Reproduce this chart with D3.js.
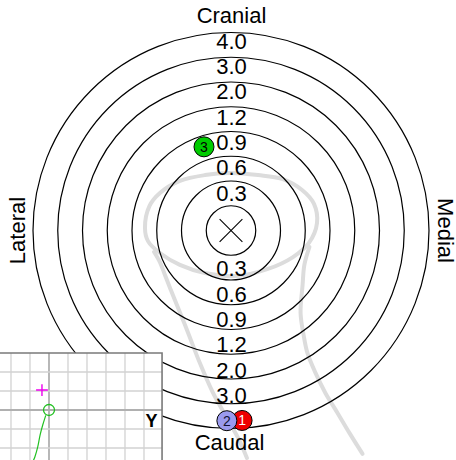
<!DOCTYPE html>
<html>
<head>
<meta charset="utf-8">
<script src="https://cdn.jsdelivr.net/npm/d3@7"></script>
<style>
  html, body { margin: 0; padding: 0; background: #fff; }
  svg { display: block; }
</style>
</head>
<body>
<svg id="chart" width="456" height="460"></svg>
<script>
// Distance bands, from the innermost ring outwards
const ringLabels = ["0.3", "0.6", "0.9", "1.2", "2.0", "3.0", "4.0"];
// Caudal side shows every band but the outermost one
const caudalRingLabels = ["0.3", "0.6", "0.9", "1.2", "2.0", "3.0"];
const directionLabels = ["Cranial", "Caudal", "Lateral", "Medial"];

// Numbered markers: band they fall in and bearing (degrees clockwise from cranial)
const markerIds = [1, 2, 3];
const markerBands = ["4.0", "4.0", "0.9"];
const markerAngles = [176.8, 181.4, -18.1];

// Bone outline, in band units (x toward medial, y toward cranial)
const outlineHead = [
  [-3.42, 0.12], [-3.24, 0.99], [-2.83, 1.50], [-2.04, 1.98], [-1.05, 2.21],
  [-0.06, 2.29], [1.05, 2.21], [2.00, 2.06], [2.79, 1.62], [3.26, 1.07],
  [3.38, 0.32], [3.06, -0.47], [2.43, -1.03], [1.44, -1.50], [0.18, -1.78],
  [-1.05, -1.66], [-2.04, -1.34], [-2.83, -0.87], [-3.30, -0.40]
];
const outlineMedialShaft = [
  [3.08, -0.63], [2.88, -1.34], [2.81, -2.13], [2.73, -3.24], [2.85, -4.11],
  [3.00, -4.82], [3.32, -5.61], [3.71, -6.40], [4.19, -7.19], [4.66, -7.98], [5.18, -8.81]
];
const outlineLateralShaft = [
  [-3.06, -0.83], [-2.83, -1.23], [-2.63, -1.74], [-2.43, -2.25], [-2.19, -2.85],
  [-1.76, -3.91], [-1.25, -5.22], [-0.73, -6.40], [-0.18, -7.39], [0.26, -8.18], [0.61, -8.97]
];

// Inset: target, cursor and trace in grid units
const insetTarget = [0, 0];
const insetCursor = [-0.37, 1.05];
const insetTrace = [
  [-0.17, -0.28], [-0.33, -0.79], [-0.47, -1.32], [-0.59, -1.93], [-0.74, -2.46], [-0.84, -2.70]
];
const insetAxisLabel = "Y";

const markerStyle = {
  1: { fill: "#ee0000", text: "#ffffff" },
  2: { fill: "#9a9aee", text: "#111133" },
  3: { fill: "#00cc00", text: "#000000" }
};

const FONT = "'Liberation Sans', Arial, Helvetica, sans-serif";
const svg = d3.select("#chart");

// ---- main polar target ----
// rings are drawn on their own radial step; band labels, markers and the
// outline share a slightly wider band step around the label centre
const ringCx = 231, ringCy = 230.5, ringStep = 24.75;
const bandCx = 231.5, bandCy = 231, bandStep = 25.3;

const rx = d3.scaleLinear().domain([0, 1]).range([ringCx, ringCx + ringStep]);
const ry = d3.scaleLinear().domain([0, 1]).range([ringCy, ringCy - ringStep]);
const rr = d3.scaleLinear().domain([0, 1]).range([0, ringStep]);

const x = d3.scaleLinear().domain([0, 1]).range([bandCx, bandCx + bandStep]);
const y = d3.scaleLinear().domain([0, 1]).range([bandCy, bandCy - bandStep]);

const main = svg.append("g");

// outline of the bone, drawn underneath everything
const outlineLine = d3.line().x(d => x(d[0])).y(d => y(d[1]));
main.append("path")
  .attr("d", outlineLine.curve(d3.curveCatmullRomClosed)(outlineHead))
  .attr("fill", "none").attr("stroke", "#dcdcdc").attr("stroke-width", 4);
[outlineMedialShaft, outlineLateralShaft].forEach(pts => {
  main.append("path")
    .attr("d", outlineLine.curve(d3.curveCatmullRom)(pts))
    .attr("fill", "none").attr("stroke", "#dcdcdc").attr("stroke-width", 4)
    .attr("stroke-linecap", "round");
});

// concentric rings: centre circle plus one per band
const outer = ringLabels.length + 1;
main.selectAll("circle.ring")
  .data(d3.range(1, outer + 1))
  .join("circle")
  .attr("class", "ring")
  .attr("cx", rx(0)).attr("cy", ry(0))
  .attr("r", d => rr(d))
  .attr("fill", "none").attr("stroke", "#000").attr("stroke-width", 1.2);

// centre cross
const xh = 0.46;
[[-xh, -xh, xh, xh], [-xh, xh, xh, -xh]].forEach(([a, b, c, d]) => {
  main.append("line")
    .attr("x1", rx(a)).attr("y1", ry(b)).attr("x2", rx(c)).attr("y2", ry(d))
    .attr("stroke", "#000").attr("stroke-width", 1.1);
});

// band labels
const bandCentre = i => i + 1.5;
main.selectAll("text.cran")
  .data(ringLabels)
  .join("text")
  .attr("class", "cran")
  .attr("x", x(0)).attr("y", (d, i) => y(bandCentre(i)))
  .attr("text-anchor", "middle").attr("dominant-baseline", "central")
  .attr("font-family", FONT).attr("font-size", 22).attr("fill", "#000")
  .text(d => d);
main.selectAll("text.caud")
  .data(caudalRingLabels)
  .join("text")
  .attr("class", "caud")
  .attr("x", x(0)).attr("y", (d, i) => y(-bandCentre(i)))
  .attr("text-anchor", "middle").attr("dominant-baseline", "central")
  .attr("font-family", FONT).attr("font-size", 22).attr("fill", "#000")
  .text(d => d);

// direction labels just outside the outer ring
const dirPos = [
  { t: directionLabels[0], x: rx(0) + 0.5, y: ry(outer) - 9.5, rot: 0 },
  { t: directionLabels[1], x: rx(0) - 1.5, y: ry(-outer) + 21.5, rot: 0 },
  { t: directionLabels[2], x: rx(-outer) - 8, y: ry(0), rot: -90 },
  { t: directionLabels[3], x: rx(outer) + 8.5, y: ry(0), rot: 90 }
];
main.selectAll("text.dir")
  .data(dirPos)
  .join("text")
  .attr("class", "dir")
  .attr("transform", d => `translate(${d.x},${d.y}) rotate(${d.rot})`)
  .attr("text-anchor", "middle")
  .attr("font-family", FONT).attr("font-size", 22).attr("fill", "#000")
  .text(d => d.t);

// numbered markers
const markers = markerIds.map((id, i) => {
  const b = bandCentre(ringLabels.indexOf(markerBands[i]));
  const a = markerAngles[i] * Math.PI / 180;
  return { id, u: b * Math.sin(a), v: b * Math.cos(a) };
});
const mg = main.selectAll("g.marker")
  .data(markers)
  .join("g")
  .attr("class", "marker")
  .attr("transform", d => `translate(${x(d.u)},${y(d.v)})`);
mg.append("circle")
  .attr("r", 10)
  .attr("fill", d => markerStyle[d.id].fill)
  .attr("stroke", "#000").attr("stroke-width", 1);
mg.append("text")
  .attr("text-anchor", "middle").attr("dominant-baseline", "central")
  .attr("font-family", FONT).attr("font-size", 14)
  .attr("fill", d => markerStyle[d.id].text)
  .text(d => d.id);

// ---- inset grid (bottom-left) ----
const ix = d3.scaleLinear().domain([0, 1]).range([49, 68]);
const iy = d3.scaleLinear().domain([0, 1]).range([410, 391]);
const inset = svg.append("g");
const ix0 = -2.7, ix1 = 5.95, iy0 = -2.8, iy1 = 3;

inset.append("rect")
  .attr("x", ix(ix0)).attr("y", iy(iy1))
  .attr("width", ix(ix1) - ix(ix0)).attr("height", iy(iy0) - iy(iy1))
  .attr("fill", "#fff");

inset.selectAll("line.gv")
  .data(d3.range(-2, 6))
  .join("line")
  .attr("class", "gv")
  .attr("x1", d => ix(d)).attr("x2", d => ix(d))
  .attr("y1", iy(iy1)).attr("y2", iy(iy0))
  .attr("stroke", d => d === 0 ? "#b0b0b0" : "#d2d2d2")
  .attr("stroke-width", d => d === 0 ? 1.8 : 1.3);
inset.selectAll("line.gh")
  .data(d3.range(-2, 3))
  .join("line")
  .attr("class", "gh")
  .attr("x1", ix(ix0)).attr("x2", ix(ix1))
  .attr("y1", d => iy(d)).attr("y2", d => iy(d))
  .attr("stroke", d => d === 0 ? "#b0b0b0" : "#d2d2d2")
  .attr("stroke-width", d => d === 0 ? 1.8 : 1.3);

// frame: top and right edges
inset.append("path")
  .attr("d", `M${ix(ix0)},${iy(iy1)}H${ix(ix1)}V${iy(iy0)}`)
  .attr("fill", "none").attr("stroke", "#7a7a7a").attr("stroke-width", 1.6);

// trace, target and cursor
inset.append("path")
  .attr("d", d3.line().x(d => ix(d[0])).y(d => iy(d[1])).curve(d3.curveCatmullRom)(insetTrace))
  .attr("fill", "none").attr("stroke", "#22c022").attr("stroke-width", 1.2);
inset.append("circle")
  .attr("cx", ix(insetTarget[0])).attr("cy", iy(insetTarget[1]))
  .attr("r", 5.5)
  .attr("fill", "none").attr("stroke", "#1fbf1f").attr("stroke-width", 1.3);
const cs = 0.31;
inset.append("path")
  .attr("d", `M${ix(insetCursor[0] - cs)},${iy(insetCursor[1])}H${ix(insetCursor[0] + cs)}` +
             `M${ix(insetCursor[0])},${iy(insetCursor[1] - cs)}V${iy(insetCursor[1] + cs)}`)
  .attr("stroke", "#ee00ee").attr("stroke-width", 1.4);

inset.append("text")
  .attr("x", ix(5.4)).attr("y", iy(-0.9))
  .attr("text-anchor", "middle")
  .attr("font-family", FONT).attr("font-size", 18).attr("font-weight", "bold")
  .attr("fill", "#000")
  .text(insetAxisLabel);
</script>
</body>
</html>
